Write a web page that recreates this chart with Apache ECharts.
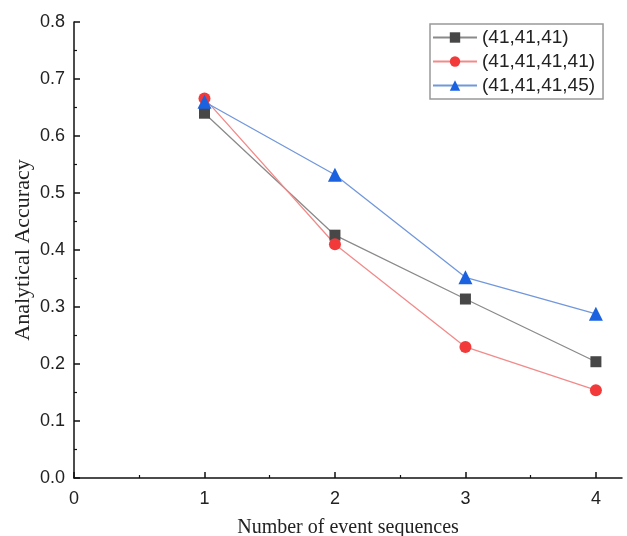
<!DOCTYPE html>
<html>
<head>
<meta charset="utf-8">
<script src="https://cdn.jsdelivr.net/npm/echarts@6/dist/echarts.min.js"></script>
<style>
  html, body { margin: 0; padding: 0; background: #fff; }
  #chart { width: 627px; height: 536px; }
</style>
</head>
<body>
<div id="chart"></div>
<script>
// number of event sequences on x
const sequences = [1, 2, 3, 4]
const seriesNames = ["(41,41,41)", "(41,41,41,41)", "(41,41,41,45)"]
const acc414141 = [0.640, 0.426, 0.314, 0.204]
const acc41414141 = [0.666, 0.410, 0.230, 0.154]
const acc41414145 = [0.660, 0.532, 0.352, 0.288]
const xTicks = [0, 1, 2, 3, 4]

const pairs = (ys) => sequences.map((x, i) => [x, ys[i]])

const chart = echarts.init(document.getElementById("chart"))

const axisBase = {
  axisLine: { lineStyle: { color: "#111", width: 1.5 } },
  axisTick: { inside: true, length: 6, lineStyle: { color: "#111", width: 1.5 } },
  minorTick: { show: true, splitNumber: 2, length: 3, lineStyle: { color: "#111", width: 1.2 } },
  splitLine: { show: false },
  axisLabel: { color: "#222", fontFamily: "Liberation Sans, Arial", fontSize: 18 },
  nameTextStyle: { color: "#222", fontFamily: "Liberation Serif, Times New Roman", fontSize: 20 },
}

chart.setOption({
  backgroundColor: "#fff",
  animation: false,
  grid: { left: 74, top: 22, right: 5, bottom: 58, containLabel: false, outerBoundsMode: "none" },
  legend: {
    data: seriesNames,
    orient: "vertical",
    left: 430,
    top: 24,
    padding: [4, 8, 4, 2],
    itemGap: 5,
    itemWidth: 44,
    itemHeight: 13,
    borderColor: "#999",
    borderWidth: 1.5,
    borderRadius: 0,
    textStyle: { color: "#222", fontFamily: "Liberation Sans, Arial", fontSize: 19 },
  },
  xAxis: {
    ...axisBase,
    type: "value",
    min: 0,
    max: 4.2,
    interval: 1,
    name: "Number of event sequences",
    nameLocation: "middle",
    nameGap: 40,
    axisTick: { ...axisBase.axisTick, customValues: xTicks },
    axisLabel: { ...axisBase.axisLabel, customValues: xTicks, margin: 12 },
  },
  yAxis: {
    ...axisBase,
    type: "value",
    min: 0,
    max: 0.8,
    interval: 0.1,
    name: "Analytical Accuracy",
    nameLocation: "middle",
    nameGap: 40,
    nameMoveOverlap: false,
    nameTextStyle: { ...axisBase.nameTextStyle, fontSize: 22 },
    axisLabel: { ...axisBase.axisLabel, margin: 9, formatter: (v) => v.toFixed(1) },
  },
  series: [
    {
      name: seriesNames[0],
      type: "line",
      data: pairs(acc414141),
      symbol: "rect",
      symbolSize: 11,
      itemStyle: { color: "#474747" },
      lineStyle: { color: "#8a8a8a", width: 1.3 },
    },
    {
      name: seriesNames[1],
      type: "line",
      data: pairs(acc41414141),
      symbol: "circle",
      symbolSize: 12,
      itemStyle: { color: "#f23a3a" },
      lineStyle: { color: "#f28a8a", width: 1.3 },
    },
    {
      name: seriesNames[2],
      type: "line",
      data: pairs(acc41414145),
      symbol: "triangle",
      symbolSize: 14,
      itemStyle: { color: "#1a62e0" },
      lineStyle: { color: "#7197dc", width: 1.3 },
    },
  ],
})
</script>
</body>
</html>
